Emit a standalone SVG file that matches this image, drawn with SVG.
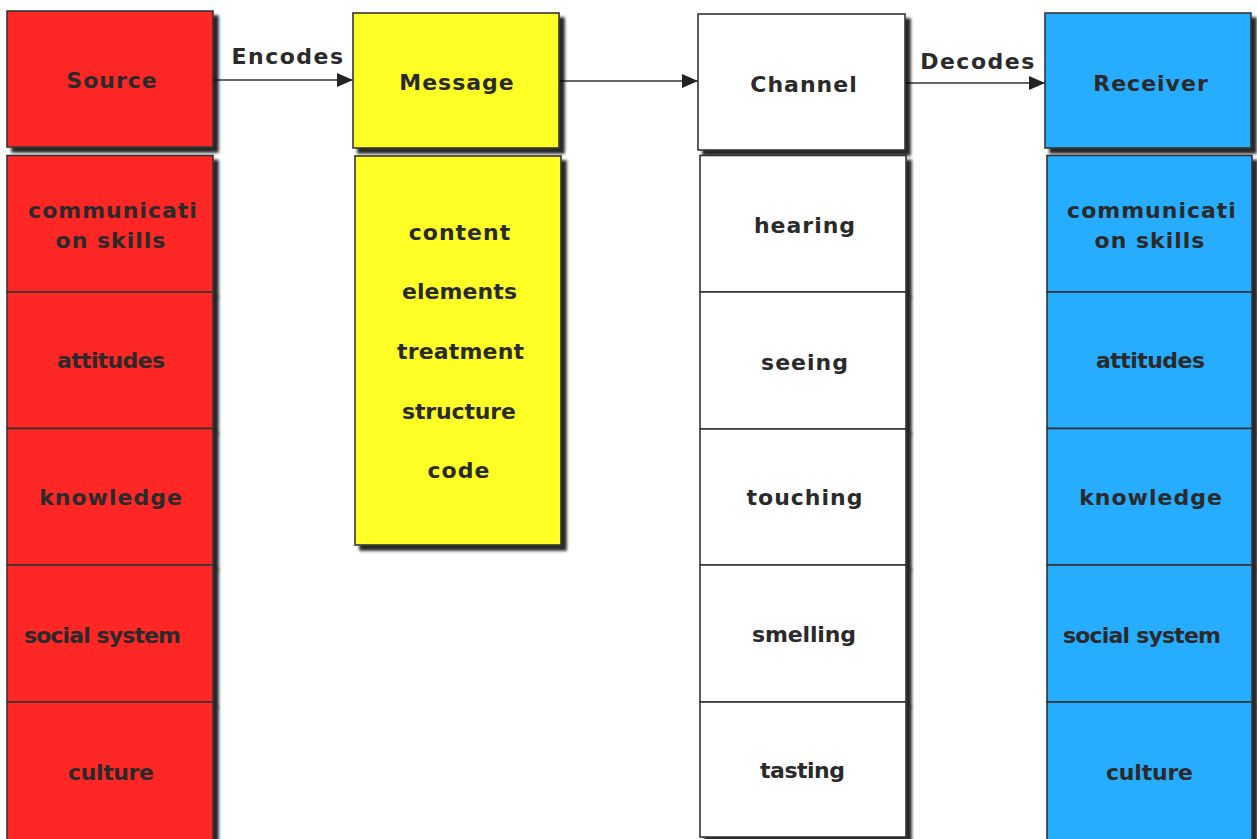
<svg xmlns="http://www.w3.org/2000/svg" width="1257" height="839" viewBox="0 0 1257 839">
<defs>
<style>
.bx{stroke:#333;stroke-width:1.6}
.red{fill:#ff2828}
.yel{fill:#ffff28}
.wht{fill:#ffffff}
.blu{fill:#28adff}
.t{font-family:"DejaVu Sans",Verdana,sans-serif;font-weight:bold;font-size:22px;fill:#2a2a2a;text-anchor:middle;letter-spacing:1px}
.el{font-family:"DejaVu Sans",Verdana,sans-serif;font-weight:bold;font-size:22px;fill:#2a2a2a;text-anchor:middle;letter-spacing:1.5px}
.cn{stroke:#333;stroke-width:1.6;fill:none}
</style>
<filter id="sh" x="-10%" y="-10%" width="130%" height="130%">
<feGaussianBlur in="SourceAlpha" stdDeviation="1.5"/>
<feOffset dx="5" dy="5" result="o"/>
<feComponentTransfer><feFuncA type="linear" slope="0.85"/></feComponentTransfer>
<feMerge><feMergeNode/><feMergeNode in="SourceGraphic"/></feMerge>
</filter>
<marker id="ar" markerUnits="userSpaceOnUse" markerWidth="17" markerHeight="15" refX="16" refY="7" orient="auto">
<path d="M0,0 L16,7 L0,14 z" fill="#222"/>
</marker>
</defs>

<g id="connectors">
<line class="cn" x1="213" y1="80" x2="353" y2="80" marker-end="url(#ar)"/>
<text class="el" x="288" y="64">Encodes</text>
<line class="cn" x1="559" y1="81" x2="698" y2="81" marker-end="url(#ar)"/>
<line class="cn" x1="905" y1="83" x2="1045" y2="83" marker-end="url(#ar)"/>
<text class="el" x="978" y="69">Decodes</text>
</g>

<g id="source">
<rect class="bx red" x="7" y="11" width="206" height="136" filter="url(#sh)"/>
<text class="t" x="112" y="88">Source</text>
</g>
<g id="source-attrs">
<rect class="bx red" x="7" y="155.5" width="206" height="136.5" filter="url(#sh)"/>
<rect class="bx red" x="7" y="292" width="206" height="136.5" filter="url(#sh)"/>
<rect class="bx red" x="7" y="428.5" width="206" height="136.5" filter="url(#sh)"/>
<rect class="bx red" x="7" y="565" width="206" height="137" filter="url(#sh)"/>
<rect class="bx red" x="7" y="702" width="206" height="140" filter="url(#sh)"/>
<text class="t" x="113" y="218">communicati</text>
<text class="t" x="111" y="248">on skills</text>
<text class="t" x="111.5" y="368" textLength="109" lengthAdjust="spacing">attitudes</text>
<text class="t" x="111" y="505">knowledge</text>
<text class="t" x="103" y="643" textLength="158" lengthAdjust="spacing">social system</text>
<text class="t" x="111.5" y="780" textLength="87" lengthAdjust="spacing">culture</text>
</g>

<g id="message">
<rect class="bx yel" x="353" y="13" width="206" height="135" filter="url(#sh)"/>
<text class="t" x="457" y="90">Message</text>
</g>
<g id="message-attrs">
<rect class="bx yel" x="355" y="156" width="206" height="389" filter="url(#sh)"/>
<text class="t" x="460" y="240">content</text>
<text class="t" x="460" y="299" textLength="116" lengthAdjust="spacing">elements</text>
<text class="t" x="461" y="359" textLength="128" lengthAdjust="spacing">treatment</text>
<text class="t" x="459.5" y="419" textLength="115" lengthAdjust="spacing">structure</text>
<text class="t" x="459" y="478">code</text>
</g>

<g id="channel">
<rect class="bx wht" x="698" y="14" width="207" height="136" filter="url(#sh)"/>
<text class="t" x="804" y="92">Channel</text>
</g>
<g id="channel-attrs">
<rect class="bx wht" x="700" y="155.5" width="206" height="136.5" filter="url(#sh)"/>
<rect class="bx wht" x="700" y="292" width="206" height="137" filter="url(#sh)"/>
<rect class="bx wht" x="700" y="429" width="206" height="136" filter="url(#sh)"/>
<rect class="bx wht" x="700" y="565" width="206" height="137" filter="url(#sh)"/>
<rect class="bx wht" x="700" y="702" width="206" height="135" filter="url(#sh)"/>
<text class="t" x="805" y="233">hearing</text>
<text class="t" x="805" y="370">seeing</text>
<text class="t" x="805" y="505">touching</text>
<text class="t" x="804.5" y="642" textLength="105" lengthAdjust="spacing">smelling</text>
<text class="t" x="803" y="778" textLength="86" lengthAdjust="spacing">tasting</text>
</g>

<g id="receiver">
<rect class="bx blu" x="1045" y="13" width="206" height="135" filter="url(#sh)"/>
<text class="t" x="1151" y="91">Receiver</text>
</g>
<g id="receiver-attrs">
<rect class="bx blu" x="1047" y="155.5" width="205" height="136.5" filter="url(#sh)"/>
<rect class="bx blu" x="1047" y="292" width="205" height="136.5" filter="url(#sh)"/>
<rect class="bx blu" x="1047" y="428.5" width="205" height="136.5" filter="url(#sh)"/>
<rect class="bx blu" x="1047" y="565" width="205" height="137" filter="url(#sh)"/>
<rect class="bx blu" x="1047" y="702" width="205" height="140" filter="url(#sh)"/>
<text class="t" x="1152" y="218">communicati</text>
<text class="t" x="1150" y="248">on skills</text>
<text class="t" x="1151" y="368" textLength="110" lengthAdjust="spacing">attitudes</text>
<text class="t" x="1151" y="505">knowledge</text>
<text class="t" x="1142.5" y="643" textLength="159" lengthAdjust="spacing">social system</text>
<text class="t" x="1150" y="780" textLength="88" lengthAdjust="spacing">culture</text>
</g>
</svg>
